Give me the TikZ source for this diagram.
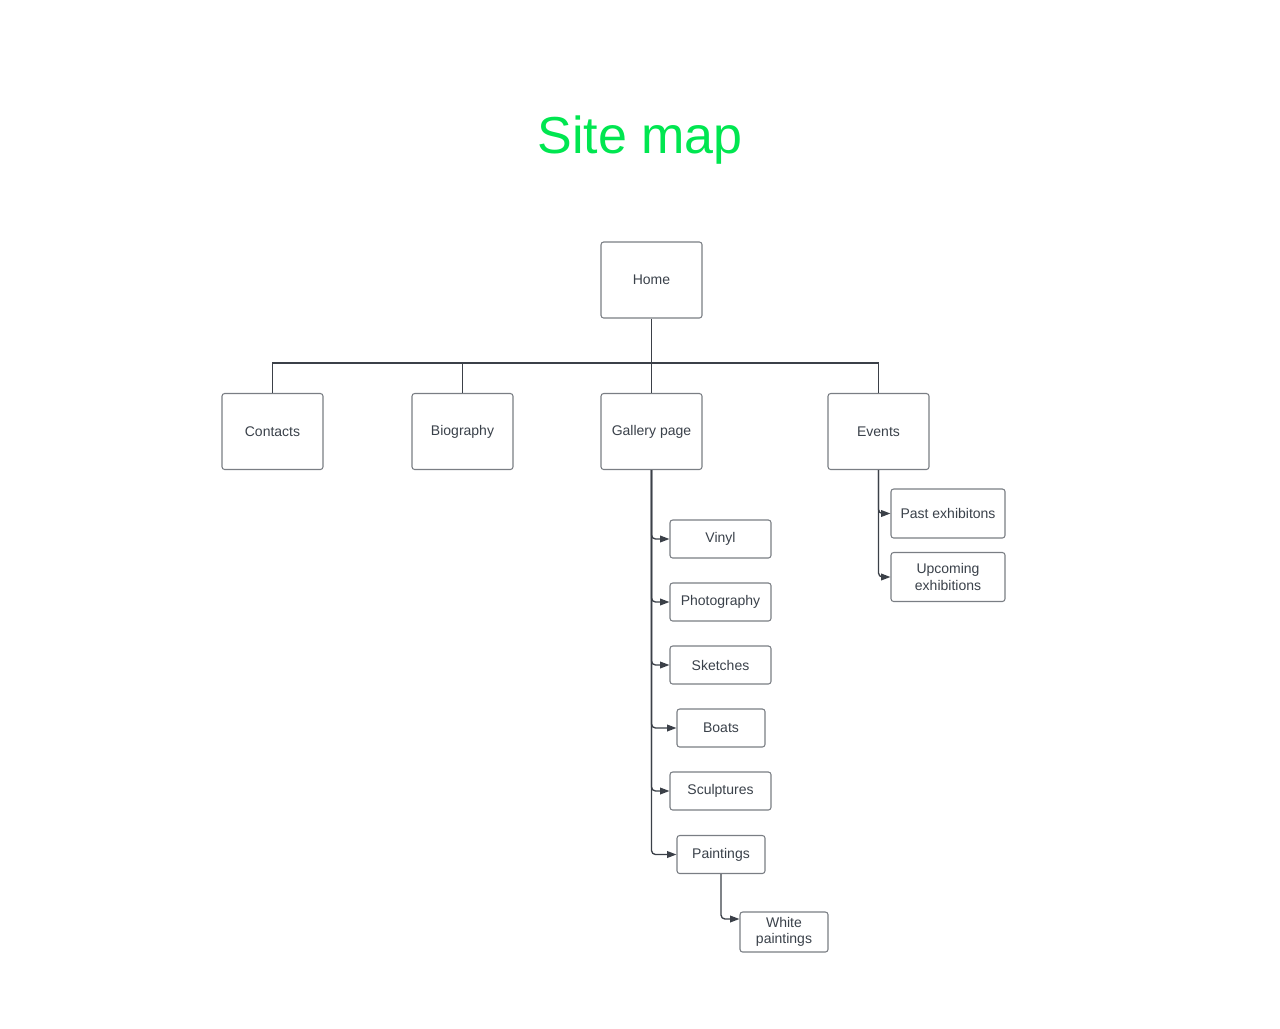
\documentclass[tikz,border=0pt]{standalone}
\usepackage{fontspec}
\setmainfont{Liberation Sans}
\usetikzlibrary{arrows.meta}

\definecolor{inkline}{RGB}{59,64,72}
\definecolor{boxline}{RGB}{122,126,132}
\definecolor{labeltext}{RGB}{58,65,74}
\definecolor{titlegreen}{RGB}{0,230,80}

\tikzset{
  page/.style={draw=boxline, line width=0.8pt, rounded corners=2pt, fill=white,
    text=labeltext, align=center, inner sep=1pt,
    font=\fontsize{10.5}{12.5}\selectfont},
  bigpage/.style={page, minimum width=75.75pt, minimum height=57pt},
  subpage/.style={page, minimum width=75.75pt, minimum height=28.5pt},
  narrowpage/.style={page, minimum width=66pt, minimum height=28.5pt},
  eventpage/.style={page, minimum width=85.5pt, minimum height=36.75pt},
  link/.style={draw=inkline, line width=1pt},
  arr/.style={link, rounded corners=3pt, -{Triangle[length=7pt,width=5pt]}},
}

\begin{document}
\begin{tikzpicture}[x=0.75pt,y=0.75pt,yscale=-1]
\useasboundingbox (0,0) rectangle (1280,1028);

% title
\node[text=titlegreen, font=\fontsize{39}{46}\selectfont] (title) at (640,140) {Site map};

% top level
\node[bigpage] (home) at (651.5,280) {Home};
\node[bigpage] (contacts) at (272.5,431.5) {Contacts};
\node[bigpage] (biography) at (462.5,431.5) {Biography};
\node[bigpage] (gallery) at (651.5,431.5) {Gallery page};
\node[bigpage] (events) at (878.5,431.5) {Events};

% gallery pages
\node[subpage] (vinyl) at (720.5,539) {Vinyl};
\node[subpage] (photography) at (720.5,602) {Photography};
\node[subpage] (sketches) at (720.5,665) {Sketches};
\node[narrowpage] (boats) at (721,728) {Boats};
\node[subpage] (sculptures) at (720.5,791) {Sculptures};
\node[narrowpage] (paintings) at (721,854.5) {Paintings};
\node[narrowpage, minimum height=30pt] (white) at (784,932) {White\\paintings};

% event pages
\node[eventpage] (past) at (948,513.5) {Past exhibitons};
\node[eventpage] (upcoming) at (948,577) {Upcoming\\exhibitions};

% connectors
\coordinate (bus) at (651.5,363);
\draw[link] (home.south) -- (gallery.north);
\foreach \n in {contacts,biography,events}
  \draw[link] (bus) -| (\n.north);

\foreach \n in {vinyl,photography,sketches,boats,sculptures,paintings}
  \draw[arr] (gallery.south) |- (\n.west);

\foreach \n in {past,upcoming}
  \draw[arr] (events.south) |- (\n.west);

\draw[arr] (paintings.south) |- ([yshift=-9.75pt]white.west);

\end{tikzpicture}
\end{document}
